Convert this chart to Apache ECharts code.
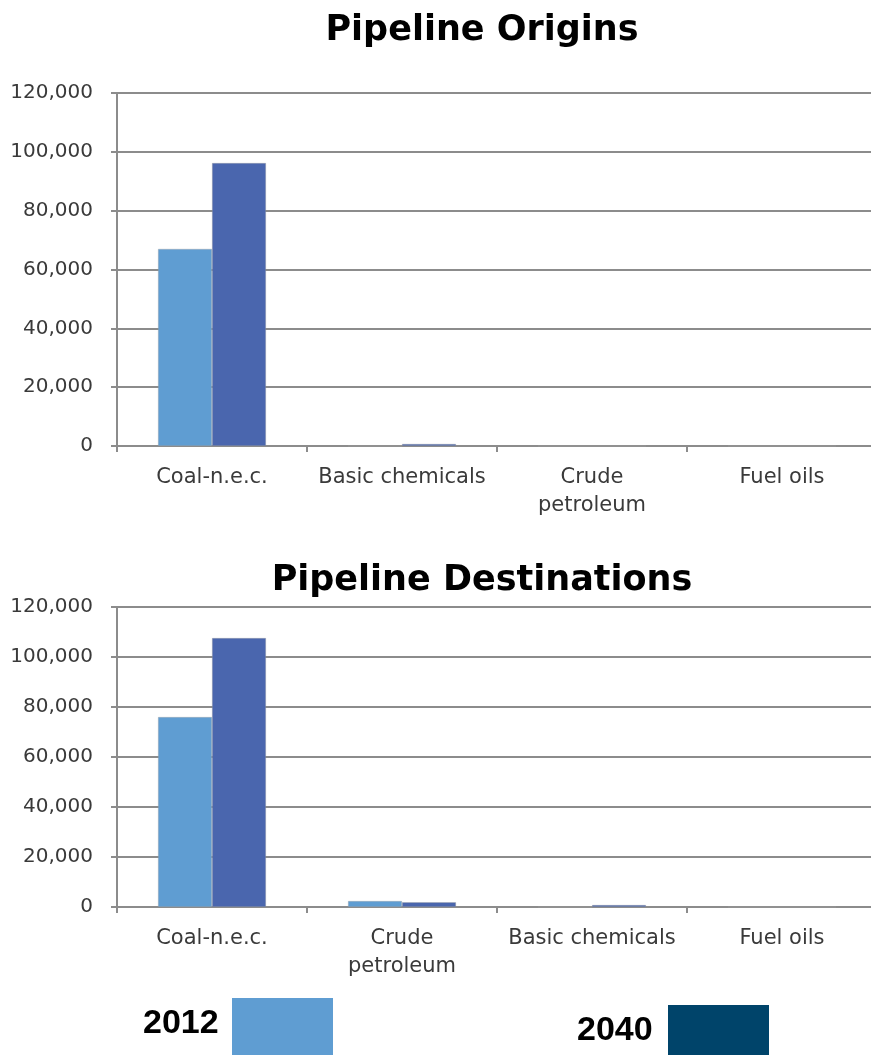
<!DOCTYPE html>
<html>
<head>
<meta charset="utf-8">
<title>Pipeline Origins and Destinations</title>
<script src="https://cdn.jsdelivr.net/npm/echarts@6/dist/echarts.min.js"></script>
<style>
  html, body { margin: 0; padding: 0; background: #ffffff; }
  #chart { width: 871px; height: 1055px; }
</style>
</head>
<body>
<div id="chart"></div>
<script>
// Tonnage moved by pipeline, by commodity
const originCategories = ['Coal-n.e.c.', 'Basic chemicals', 'Crude\npetroleum', 'Fuel oils'];
const origins2012 = [67000, 0, 0, 0];
const origins2040 = [96200, 700, 0, 0];

const destinationCategories = ['Coal-n.e.c.', 'Crude\npetroleum', 'Basic chemicals', 'Fuel oils'];
const destinations2012 = [76000, 2400, 0, 0];
const destinations2040 = [107600, 1900, 800, 0];

const yTicks = [0, 20000, 40000, 60000, 80000, 100000, 120000];
const seriesNames = ['2012', '2040'];

const COLOR_2012 = '#5f9dd2';
const COLOR_2040 = '#4a66ae';
const LEGEND_2040 = '#00446a';
const AXIS_GREY = '#8c8c8c';
const TEXT_GREY = '#3a3a3a';
const FONT = '"DejaVu Sans", sans-serif';
const LEGEND_FONT = '"Liberation Sans", Arial, sans-serif';

const fmt = v => v.toLocaleString('en-US');

function xAxisFor(gridIndex, cats) {
  return {
    type: 'category',
    gridIndex,
    data: cats,
    boundaryGap: true,
    axisLine: { lineStyle: { color: AXIS_GREY, width: 2 } },
    axisTick: { show: true, length: 6, lineStyle: { color: AXIS_GREY, width: 2 } },
    axisLabel: {
      color: TEXT_GREY, fontFamily: FONT, fontSize: 21, margin: 18,
      lineHeight: 28, interval: 0
    }
  };
}

function yAxisFor(gridIndex) {
  return {
    type: 'value',
    gridIndex,
    min: yTicks[0],
    max: yTicks[yTicks.length - 1],
    interval: yTicks[1] - yTicks[0],
    axisLine: { show: true, lineStyle: { color: AXIS_GREY, width: 2 } },
    axisTick: { show: true, length: 6, lineStyle: { color: AXIS_GREY, width: 2 } },
    splitLine: { show: true, lineStyle: { color: AXIS_GREY, width: 2 } },
    axisLabel: {
      color: TEXT_GREY, fontFamily: FONT, fontSize: 20, margin: 24,
      formatter: v => fmt(v)
    }
  };
}

function barSeries(name, data, color, idx) {
  return {
    name,
    type: 'bar',
    xAxisIndex: idx,
    yAxisIndex: idx,
    data,
    barWidth: 54,
    barGap: '0%',
    itemStyle: { color, borderColor: 'rgba(160,160,160,0.6)', borderWidth: 0.6 },
    emphasis: { disabled: true }
  };
}

const chart = echarts.init(document.getElementById('chart'), null, { renderer: 'canvas' });

chart.setOption({
  backgroundColor: '#ffffff',
  animation: false,
  title: [
    {
      text: 'Pipeline Origins', left: 477, top: 8, textAlign: 'center',
      textStyle: { fontFamily: FONT, fontWeight: 'bold', fontSize: 35, color: '#000' }
    },
    {
      text: 'Pipeline Destinations', left: 477, top: 558, textAlign: 'center',
      textStyle: { fontFamily: FONT, fontWeight: 'bold', fontSize: 35, color: '#000' }
    }
  ],
  grid: [
    { left: 117, top: 93, width: 760, height: 353, outerBoundsMode: 'none', containLabel: false },
    { left: 117, top: 607, width: 760, height: 300, outerBoundsMode: 'none', containLabel: false }
  ],
  xAxis: [xAxisFor(0, originCategories), xAxisFor(1, destinationCategories)],
  yAxis: [yAxisFor(0), yAxisFor(1)],
  series: [
    barSeries(seriesNames[0], origins2012, COLOR_2012, 0),
    barSeries(seriesNames[1], origins2040, COLOR_2040, 0),
    barSeries(seriesNames[0], destinations2012, COLOR_2012, 1),
    barSeries(seriesNames[1], destinations2040, COLOR_2040, 1)
  ],
  graphic: [
    { type: 'text', left: 143, top: 1007,
      style: { text: seriesNames[0], font: 'bold 34px ' + LEGEND_FONT, fill: '#000' } },
    { type: 'rect', shape: { x: 232, y: 998, width: 101, height: 70 },
      style: { fill: COLOR_2012 } },
    { type: 'text', left: 577, top: 1014,
      style: { text: seriesNames[1], font: 'bold 34px ' + LEGEND_FONT, fill: '#000' } },
    { type: 'rect', shape: { x: 668, y: 1005, width: 101, height: 70 },
      style: { fill: LEGEND_2040 } }
  ]
});
</script>
</body>
</html>
